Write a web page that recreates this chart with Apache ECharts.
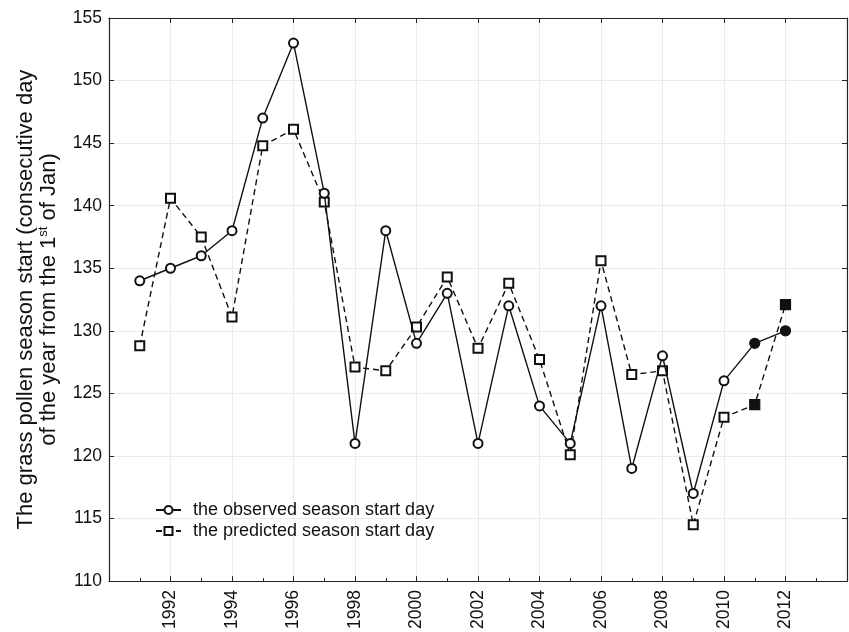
<!DOCTYPE html>
<html>
<head>
<meta charset="utf-8">
<script src="https://cdn.jsdelivr.net/npm/echarts@6/dist/echarts.min.js"></script>
<style>html,body{margin:0;padding:0;background:#fff}#c{width:849px;height:632px}</style>
</head>
<body>
<div id="c"></div>
<script>
var years = [1991,1992,1993,1994,1995,1996,1997,1998,1999,2000,2001,2002,2003,2004,2005,2006,2007,2008,2009,2010,2011,2012];
var observed = [134,135,136,138,147,153,141,121,138,129,133,121,132,124,121,132,119,128,117,126,129,130];
var predicted = [128.8,140.6,137.5,131.1,144.8,146.1,140.3,127.1,126.8,130.3,134.3,128.6,133.8,127.7,120.1,135.6,126.5,126.8,114.5,123.1,124.1,132.1];
var filledYears = [2011,2012];
var yTicks = {min:110, max:155, interval:5};
var xTicks = {min:1990, max:2014, interval:2, labelFrom:1992, labelTo:2012};
var obsName = 'the observed season start day';
var predName = 'the predicted season start day';

var FONT = 'Liberation Sans, Arial, sans-serif';
var TXT = '#111';
function buildData(vals, filledSym) {
  return years.map(function(y, i) {
    var d = {value: [y, vals[i]]};
    if (filledYears.indexOf(y) >= 0) {
      d.symbol = filledSym;
      d.symbolSize = 10;
      d.itemStyle = {color: '#111', borderColor: '#111'};
    }
    return d;
  });
}
var chart = echarts.init(document.getElementById('c'));
chart.setOption({
  animation: false,
  backgroundColor: '#fff',
  textStyle: {fontFamily: FONT},
  grid: {left: 109, right: 2, top: 18, bottom: 48, containLabel: false},
  legend: {
    orient: 'vertical', left: 155, top: 501, padding: 0,
    itemWidth: 25, itemHeight: 10, itemGap: 3,
    textStyle: {fontSize: 18, color: TXT, fontFamily: FONT, lineHeight: 18, padding: [0,0,0,7]},
    data: [obsName, predName]
  },
  xAxis: [{
    type: 'value', min: xTicks.min, max: xTicks.max, interval: xTicks.interval,
    axisLine: {show: true, lineStyle: {color: '#222', width: 1.2}},
    axisTick: {show: true, inside: true, length: 5, lineStyle: {color: '#222'}},
    minorTick: {show: true, splitNumber: 2, length: 3, lineStyle: {color: '#222'}},
    axisLabel: {
      rotate: 90, margin: 9, fontSize: 17.5, color: TXT, fontFamily: FONT,
      formatter: function(v) { return (v >= xTicks.labelFrom && v <= xTicks.labelTo) ? String(v) : ''; }
    },
    splitLine: {show: true, lineStyle: {color: '#ebebeb', width: 1}}
  }, {
    type: 'value', position: 'top', min: xTicks.min, max: xTicks.max, interval: xTicks.interval,
    axisLine: {show: true, lineStyle: {color: '#222', width: 1.2}},
    axisTick: {show: true, inside: true, length: 5, lineStyle: {color: '#222'}},
    axisLabel: {show: false}, splitLine: {show: false}
  }],
  yAxis: [{
    type: 'value', min: yTicks.min, max: yTicks.max, interval: yTicks.interval,
    axisLine: {show: true, lineStyle: {color: '#222', width: 1.2}},
    axisTick: {show: true, inside: true, length: 5, lineStyle: {color: '#222'}},
    axisLabel: {fontSize: 17.5, color: TXT, margin: 7, fontFamily: FONT},
    splitLine: {show: true, lineStyle: {color: '#ebebeb', width: 1}},
    name: 'The grass pollen season start (consecutive day\nof the year from the 1{sup|st} of Jan)',
    nameLocation: 'middle', nameGap: 49, nameRotate: 90,
    nameTextStyle: {
      fontSize: 22, color: TXT, fontFamily: FONT, lineHeight: 23, align: 'center',
      rich: {sup: {fontSize: 13, color: TXT, fontFamily: FONT, verticalAlign: 'top', lineHeight: 23, padding: [0,0,9,0]}}
    }
  }, {
    type: 'value', position: 'right', min: yTicks.min, max: yTicks.max, interval: yTicks.interval,
    axisLine: {show: true, lineStyle: {color: '#222', width: 1.2}},
    axisTick: {show: true, inside: true, length: 5, lineStyle: {color: '#222'}},
    axisLabel: {show: false}, splitLine: {show: false}
  }],
  series: [{
    name: obsName, type: 'line', data: buildData(observed, 'circle'),
    symbol: 'emptyCircle', symbolSize: 9,
    itemStyle: {color: '#111', borderWidth: 1.2},
    lineStyle: {color: '#111', width: 1.4, type: 'solid'},
    z: 3
  }, {
    name: predName, type: 'line', data: buildData(predicted, 'rect'),
    symbol: 'emptyRect', symbolSize: 9,
    itemStyle: {color: '#111', borderWidth: 1.2},
    lineStyle: {color: '#111', width: 1.4, type: [6, 4]},
    z: 2
  }]
});
</script>
</body>
</html>
